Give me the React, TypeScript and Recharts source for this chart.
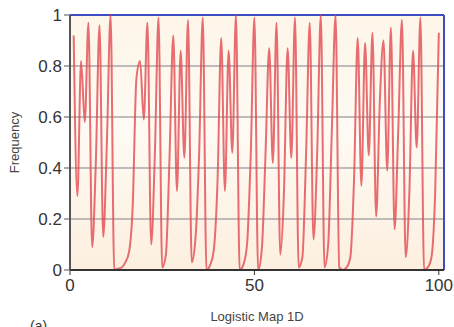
import { LineChart, Line, XAxis, YAxis, CartesianGrid, ReferenceLine, Label } from "recharts";

// time steps of the 1D logistic map
const steps = Array.from({ length: 100 }, (_, i) => i + 1);

// values, one per step
const frequency = [
    0.92, 0.29, 0.82, 0.58, 0.97, 0.09, 0.42, 0.96, 0.13, 0.5,
    1.0, 0.0, 0.005, 0.01, 0.03, 0.07, 0.25, 0.75, 0.82, 0.59,
    0.97, 0.1, 0.45, 0.99, 0.01, 0.06, 0.45, 0.92, 0.31, 0.86,
    0.44, 0.98, 0.03, 0.12, 0.45, 0.99, 0.0, 0.02, 0.08, 0.35,
    0.91, 0.31, 0.86, 0.46, 1.0, 0.0, 0.02, 0.1, 0.45, 0.99,
    0.0, 0.08, 0.45, 0.87, 0.42, 0.97, 0.06, 0.3, 0.87, 0.44,
    0.99, 0.01, 0.05, 0.45, 0.97, 0.12, 0.45, 1.0, 0.01, 0.1,
    0.55, 1.0, 0.01, 0.0, 0.01, 0.05, 0.35, 0.91, 0.33, 0.89,
    0.45, 0.93, 0.21, 0.66, 0.9, 0.39, 0.95, 0.16, 0.55, 0.98,
    0.05, 0.3, 0.86, 0.48, 0.99, 0.0, 0.01, 0.05, 0.3, 0.93,
];

const xTicks = [0, 50, 100];
const yTicks = [0, 0.2, 0.4, 0.6, 0.8, 1];
const xMax = 101.4;

const data = steps.map((x, i) => ({ x, y: frequency[i] }));

const font = "'Liberation Sans', Arial, sans-serif";

export default function App() {
    return (
        <div style={{ position: "absolute", left: 0, top: 0, width: 454, height: 327, background: "#fff", overflow: "hidden", fontFamily: font }}>
            <LineChart width={454} height={327} data={data} margin={{ top: 15, right: 10, bottom: 37, left: 0 }}>
                <defs>
                    <linearGradient id="plotBg" x1="0" y1="0" x2="0" y2="1">
                        <stop offset="0%" stopColor="#fdf5e8" />
                        <stop offset="45%" stopColor="#fefaf3" />
                        <stop offset="100%" stopColor="#fcefdf" />
                    </linearGradient>
                </defs>
                <CartesianGrid vertical={false} stroke="#a8a8a8" strokeWidth={1.5} fill="url(#plotBg)" fillOpacity={1} />
                <XAxis
                    dataKey="x"
                    type="number"
                    domain={[0, xMax]}
                    ticks={xTicks}
                    height={20}
                    axisLine={{ stroke: "#333", strokeWidth: 2 }}
                    tickLine={{ stroke: "#333" }}
                    tickSize={5}
                    tickMargin={4}
                    tick={{ fill: "#333", fontSize: 17, fontFamily: font }}
                >
                    <Label value="Logistic Map 1D" position="bottom" offset={22} style={{ fill: "#444", fontSize: 13, fontFamily: font }} />
                </XAxis>
                <YAxis
                    type="number"
                    domain={[0, 1]}
                    ticks={yTicks}
                    width={70}
                    axisLine={{ stroke: "#555", strokeWidth: 2 }}
                    tickLine={{ stroke: "#555" }}
                    tickSize={6}
                    tickMargin={2}
                    tick={{ fill: "#333", fontSize: 17, fontFamily: font }}
                >
                    <Label value="Frequency" angle={-90} position="insideLeft" offset={14} style={{ textAnchor: "middle", fill: "#444", fontSize: 13, fontFamily: font }} />
                </YAxis>
                <ReferenceLine y={1} stroke="#3d4cc0" strokeWidth={2} />
                <ReferenceLine x={xMax} stroke="#3d4cc0" strokeWidth={2} />
                <Line
                    type="monotone"
                    dataKey="y"
                    stroke="#e24a50"
                    strokeWidth={2}
                    strokeOpacity={0.8}
                    dot={false}
                    isAnimationActive={false}
                />
            </LineChart>
            <div style={{ position: "absolute", left: 30, top: 318, fontSize: 14, color: "#333" }}>(a)</div>
        </div>
    );
}
